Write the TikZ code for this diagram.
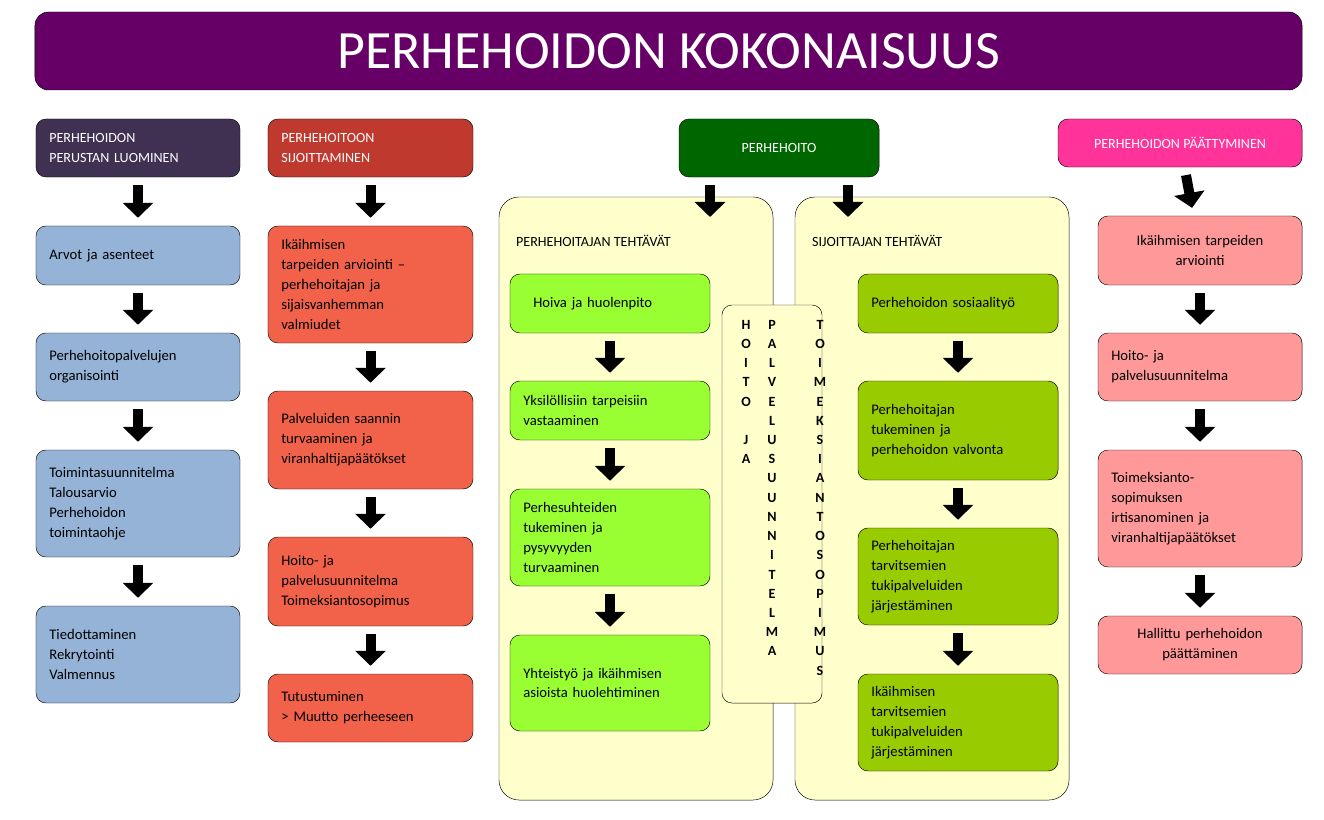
\documentclass[tikz,border=0pt]{standalone}
\usepackage{fontspec}
\setmainfont{Carlito}
\usetikzlibrary{arrows.meta}
\definecolor{titlepurple}{HTML}{660066}
\definecolor{hdrone}{HTML}{403152}
\definecolor{hdrtwo}{HTML}{C0392F}
\definecolor{hdrgreen}{HTML}{006600}
\definecolor{hdrpink}{HTML}{FF3399}
\definecolor{boxblue}{HTML}{95B3D7}
\definecolor{boxred}{HTML}{F2624A}
\definecolor{boxlime}{HTML}{99FF33}
\definecolor{boxolive}{HTML}{99CC00}
\definecolor{boxsalmon}{HTML}{FF9999}
\definecolor{panelyellow}{HTML}{FFFFCC}
\tikzset{
  box/.style={draw=black, rounded corners=0.3cm, align=left, inner xsep=0.4cm,
    font=\fontsize{12.5}{17}\selectfont},
  hdr/.style={box, text=white, font=\fontsize{12}{17}\selectfont, minimum height=1.74cm},
  panel/.style={draw=black, rounded corners=0.6cm, fill=panelyellow,
    minimum width=8.22cm, minimum height=18.09cm},
  blockarrow/.style={line width=0.3cm, -{Triangle[width=0.9cm,length=0.45cm]},
    shorten <=0.24cm, shorten >=0.24cm},
  vert/.style={align=center, anchor=north, font=\bfseries\fontsize{12}{16.4}\selectfont}
}
\begin{document}
\begin{tikzpicture}[x=0.03cm, y=-0.03cm]
    \useasboundingbox (0,0) rectangle (1324,820);

    % Title
    \node[draw=black, rounded corners=0.4cm, fill=titlepurple, text=white,
      minimum width=38.01cm, minimum height=2.34cm,
      font=\fontsize{46}{50}\selectfont] (title) at (668.5,51) {PERHEHOIDON KOKONAISUUS};

    % Column 1
    \node[hdr, fill=hdrone, minimum width=6.12cm, text width=5.32cm] (h1) at (138,148) {PERHEHOIDON\\PERUSTAN LUOMINEN};
    \node[box, fill=boxblue, minimum width=6.12cm, text width=5.32cm, minimum height=1.77cm] (a1) at (138,255.5) {Arvot ja asenteet};
    \node[box, fill=boxblue, minimum width=6.12cm, text width=5.32cm, minimum height=2.04cm] (a2) at (138,367) {Perhehoitopalvelujen\\organisointi};
    \node[box, fill=boxblue, minimum width=6.12cm, text width=5.32cm, minimum height=3.21cm] (a3) at (138,503.5) {Toimintasuunnitelma\\Talousarvio\\Perhehoidon\\toimintaohje};
    \node[box, fill=boxblue, minimum width=6.12cm, text width=5.32cm, minimum height=2.91cm] (a4) at (138,654.5) {Tiedottaminen\\Rekrytointi\\Valmennus};

    % Column 2
    \node[hdr, fill=hdrtwo, minimum width=6.15cm, text width=5.35cm] (h2) at (370.5,148) {PERHEHOITOON\\SIJOITTAMINEN};
    \node[box, fill=boxred, minimum width=6.15cm, text width=5.35cm, minimum height=3.51cm] (b1) at (370.5,284.5) {Ikäihmisen\\tarpeiden arviointi --\\perhehoitajan ja\\sijaisvanhemman\\valmiudet};
    \node[box, fill=boxred, minimum width=6.15cm, text width=5.35cm, minimum height=2.94cm] (b2) at (370.5,440) {Palveluiden saannin\\turvaaminen ja\\viranhaltijapäätökset};
    \node[box, fill=boxred, minimum width=6.15cm, text width=5.35cm, minimum height=2.67cm] (b3) at (370.5,581.5) {Hoito- ja\\palvelusuunnitelma\\Toimeksiantosopimus};
    \node[box, fill=boxred, minimum width=6.15cm, text width=5.35cm, minimum height=2.04cm] (b4) at (370.5,708) {Tutustuminen\\> Muutto perheeseen};

    % Perhehoito
    \node[hdr, fill=hdrgreen, align=center, minimum width=6.0cm] (h3) at (779,148) {PERHEHOITO};
    \node[panel] (pl) at (636,498.5) {};
    \node[panel] (pr) at (932,498.5) {};
    \coordinate (pla) at (710,217);
    \coordinate (pra) at (848,217);
    \node[anchor=west, font=\fontsize{12}{17}\selectfont] (tl) at (512,241) {PERHEHOITAJAN TEHTÄVÄT};
    \node[anchor=west, font=\fontsize{12}{17}\selectfont] (tr) at (808,241) {SIJOITTAJAN TEHTÄVÄT};

    \node[box, fill=boxlime, minimum width=6.0cm, text width=5.2cm, minimum height=1.77cm] (c1) at (610,303.5) {\hspace*{0.3cm}Hoiva ja huolenpito};
    \node[box, fill=boxlime, minimum width=6.0cm, text width=5.2cm, minimum height=1.77cm] (c2) at (610,410.5) {Yksilöllisiin tarpeisiin\\vastaaminen};
    \node[box, fill=boxlime, minimum width=6.0cm, text width=5.2cm, minimum height=2.91cm] (c3) at (610,537.5) {Perhesuhteiden\\tukeminen ja\\pysyvyyden\\turvaaminen};
    \node[box, fill=boxlime, minimum width=6.0cm, text width=5.2cm, minimum height=2.88cm] (c4) at (610,683) {Yhteistyö ja ikäihmisen\\asioista huolehtiminen};

    \node[box, fill=boxolive, minimum width=6.0cm, text width=5.2cm, minimum height=1.77cm] (d1) at (958,303.5) {Perhehoidon sosiaalityö};
    \node[box, fill=boxolive, minimum width=6.0cm, text width=5.2cm, minimum height=2.97cm] (d2) at (958,430.5) {Perhehoitajan\\tukeminen ja\\perhehoidon valvonta};
    \node[box, fill=boxolive, minimum width=6.0cm, text width=5.2cm, minimum height=2.91cm] (d3) at (958,576.5) {Perhehoitajan\\tarvitsemien\\tukipalveluiden\\järjestäminen};
    \node[box, fill=boxolive, minimum width=6.0cm, text width=5.2cm, minimum height=2.91cm] (d4) at (958,722.5) {Ikäihmisen\\tarvitsemien\\tukipalveluiden\\järjestäminen};

    % Middle plan box
    \node[draw=black, rounded corners=0.3cm, fill=panelyellow, minimum width=3.0cm, minimum height=11.94cm] (mid) at (772,504) {};
    \node[vert] (m1) at (746,316) {H\\O\\I\\T\\O\\\strut\\J\\A};
    \node[vert] (m2) at (772,316) {P\\A\\L\\V\\E\\L\\U\\S\\U\\U\\N\\N\\I\\T\\E\\L\\M\\A};
    \node[vert] (m3) at (820,316) {T\\O\\I\\M\\E\\K\\S\\I\\A\\N\\T\\O\\S\\O\\P\\I\\M\\U\\S};

    % Column 4
    \node[hdr, fill=hdrpink, align=center, minimum width=7.32cm, minimum height=1.44cm] (h4) at (1180,143) {PERHEHOIDON PÄÄTTYMINEN};
    \node[box, fill=boxsalmon, align=center, minimum width=6.12cm, text width=5.32cm, minimum height=2.07cm] (e1) at (1200,250.5) {Ikäihmisen tarpeiden\\arviointi};
    \node[box, fill=boxsalmon, minimum width=6.12cm, text width=5.32cm, minimum height=2.04cm] (e2) at (1200,367) {Hoito- ja\\palvelusuunnitelma};
    \node[box, fill=boxsalmon, minimum width=6.12cm, text width=5.32cm, minimum height=3.51cm] (e3) at (1200,508.5) {Toimeksianto-\\sopimuksen\\irtisanominen ja\\viranhaltijapäätökset};
    \node[box, fill=boxsalmon, align=center, minimum width=6.12cm, text width=5.32cm, minimum height=1.74cm] (e4) at (1200,645) {Hallittu perhehoidon\\päättäminen};

    % Arrows
    \draw[blockarrow] (h1) -- (a1);
    \foreach \p/\q in {a1/a2, a2/a3, a3/a4, h2/b1, b1/b2, b2/b3, b3/b4,
                       c1/c2, c2/c3, c3/c4, d1/d2, d2/d3, d3/d4,
                       h4/e1, e1/e2, e2/e3, e3/e4}
        \draw[blockarrow] (\p) -- (\q);
    \draw[blockarrow, shorten >=0cm] (h3.south -| pla) -- (pla);
    \draw[blockarrow, shorten >=0cm] (h3.south -| pra) -- (pra);
\end{tikzpicture}
\end{document}
